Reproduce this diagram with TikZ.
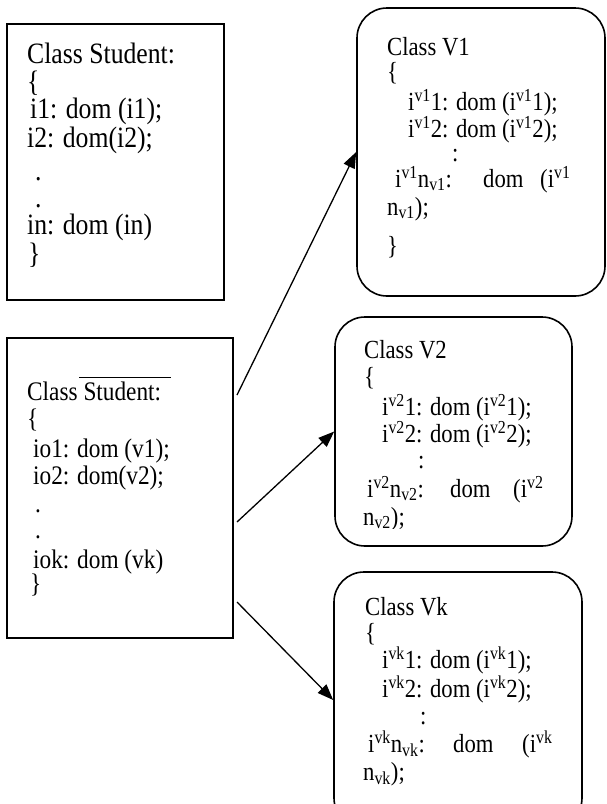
\documentclass[tikz,border=0pt]{standalone}
\usepackage{fontspec}
\setmainfont{Liberation Serif}
\usetikzlibrary{arrows.meta}
\begin{document}
\begin{tikzpicture}[x=1pt,y=1pt,
  box/.style={draw, line width=1.8pt, inner sep=0pt},
  rbox/.style={draw, line width=1.6pt, rounded corners=30pt, inner sep=0pt},
  lt/.style={anchor=base west, inner sep=0pt, yscale=1.15, font=\fontsize{25.7}{30}\selectfont},
  mt/.style={anchor=base west, inner sep=0pt, yscale=1.15, font=\fontsize{23.3}{28}\selectfont},
  rt/.style={anchor=base west, inner sep=0pt, yscale=1.15, font=\fontsize{22.7}{27}\selectfont},
  nodepth/.style={text depth=0pt},
  ovl/.style={line width=0.9pt},
  arr/.style={line width=1.3pt, -{Triangle[length=16pt,width=12pt]}}]
\useasboundingbox (0,0) rectangle (606,-804);

% boxes
\node[box, minimum width=217pt, minimum height=276pt] (A) at (115.5,-162) {};
\node[box, minimum width=226pt, minimum height=300pt] (B) at (120,-488) {};
\node[rbox, minimum width=248pt, minimum height=288pt] (V1) at (481,-152) {};
\node[rbox, minimum width=237pt, minimum height=229pt] (V2) at (453.5,-431.5) {};
\node[rbox, minimum width=248pt, minimum height=256pt] (Vk) at (458,-700) {};

% box A text
\node[lt, nodepth] (a1) at (27,-63) {Class Student:};
\node[lt] (a2) at (27,-91) {\{};
\node[lt] (a3) at (30,-118) {i1: dom (i1);};
\node[lt] (a4) at (27,-147) {i2: dom(i2);};
\node[lt] (a5) at (35,-180) {.};
\node[lt] (a6) at (35,-207) {.};
\node[lt] (a7) at (27,-234) {in: dom (in)};
\node[lt] (a8) at (28,-263) {\}};

% box B text
\draw[ovl] (79,-377) -- (171,-377);
\node[mt, nodepth] (b1) at (27,-400) {Class Student:};
\node[mt] (b2) at (27,-427) {\{};
\node[mt] (b3) at (33,-457) {io1: dom (v1);};
\node[mt] (b4) at (33,-484) {io2: dom(v2);};
\node[mt] (b5) at (35,-512) {.};
\node[mt] (b6) at (35,-538) {.};
\node[mt] (b7) at (33,-568) {iok: dom (vk)};
\node[mt] (b8) at (30,-592) {\}};

% V1 text
\node[rt, nodepth] (p1) at (387,-55) {Class V1};
\node[rt] (p2) at (387,-80) {\{};
\node[rt] (p3) at (408,-110) {i\textsuperscript{v1}1: dom (i\textsuperscript{v1}1);};
\node[rt] (p4) at (408,-137) {i\textsuperscript{v1}2: dom (i\textsuperscript{v1}2);};
\node[rt] (p5) at (452,-161) {:};
\node[rt] (p6) at (395,-187) {i\textsuperscript{v1}n\textsubscript{v1}:};
\node[rt] (p7) at (483,-187) {dom};
\node[rt] (p8) at (540,-187) {(i\textsuperscript{v1}};
\node[rt] (p9) at (387,-215) {n\textsubscript{v1});};
\node[rt] (p10) at (387,-254) {\}};

% V2 text
\node[rt, nodepth] (q1) at (364,-358) {Class V2};
\node[rt] (q2) at (364,-385) {\{};
\node[rt] (q3) at (382,-415) {i\textsuperscript{v2}1: dom (i\textsuperscript{v2}1);};
\node[rt] (q4) at (382,-442) {i\textsuperscript{v2}2: dom (i\textsuperscript{v2}2);};
\node[rt] (q5) at (418,-468) {:};
\node[rt] (q6) at (367,-497) {i\textsuperscript{v2}n\textsubscript{v2}:};
\node[rt] (q7) at (450,-497) {dom};
\node[rt] (q8) at (513,-497) {(i\textsuperscript{v2}};
\begin{scope}
  \clip (340,-500) rectangle (572,-528);
  \node[rt] (q9) at (363,-525) {n\textsubscript{v2});};
\end{scope}

% Vk text
\node[rt, nodepth] (r1) at (365,-615) {Class Vk};
\node[rt] (r2) at (365,-641) {\{};
\node[rt] (r3) at (382,-668) {i\textsuperscript{vk}1: dom (i\textsuperscript{vk}1);};
\node[rt] (r4) at (382,-697) {i\textsuperscript{vk}2: dom (i\textsuperscript{vk}2);};
\node[rt] (r5) at (420,-724) {:};
\node[rt] (r6) at (368,-752) {i\textsuperscript{vk}n\textsubscript{vk}:};
\node[rt] (r7) at (453,-752) {dom};
\node[rt] (r8) at (522,-752) {(i\textsuperscript{vk}};
\node[rt] (r9) at (363,-780) {n\textsubscript{vk});};

% connectors
\coordinate (s1) at (237,-395);
\coordinate (s2) at (237,-522);
\coordinate (s3) at (237,-602);
\draw[arr] (s1) -- (V1.west);
\draw[arr] (s2) -- (V2.west);
\draw[arr] (s3) -- (Vk.west);
\end{tikzpicture}
\end{document}
